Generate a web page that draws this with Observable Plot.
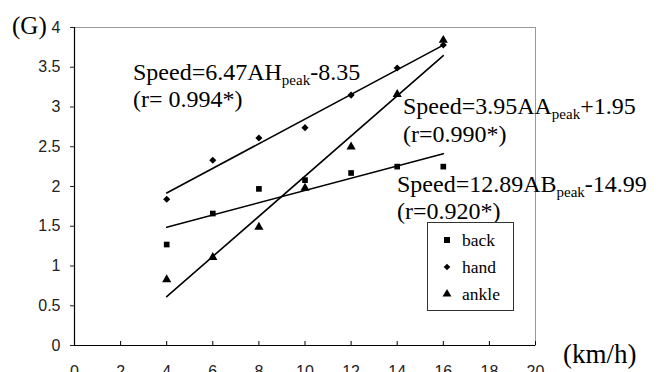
<!DOCTYPE html>
<html>
<head>
<meta charset="utf-8">
<script src="https://cdn.jsdelivr.net/npm/d3@7"></script>
<script src="https://cdn.jsdelivr.net/npm/@observablehq/plot@0.6"></script>
<style>
  html, body { margin: 0; padding: 0; background: #fff; }
  #chart { position: relative; width: 661px; height: 372px; overflow: hidden; }
</style>
</head>
<body>
<div id="chart"></div>
<script>
// ---- data ----
const speeds = [4, 6, 8, 10, 12, 14, 16];
const back  = [1.27, 1.66, 1.97, 2.08, 2.17, 2.25, 2.25];
const hand  = [1.84, 2.33, 2.61, 2.74, 3.15, 3.49, 3.78];
const ankle = [0.83, 1.11, 1.49, 1.98, 2.50, 3.16, 3.84];
const seriesNames = ["back", "hand", "ankle"];
const seriesSymbols = ["square", "diamond2", "triangle"];
const xTicks = [0, 2, 4, 6, 8, 10, 12, 14, 16, 18, 20];
const yTicks = [0, 0.5, 1, 1.5, 2, 2.5, 3, 3.5, 4];
const yTickLabels = ["0", "0.5", "1", "1.5", "2", "2.5", "3", "3.5", "4"];
const xUnit = "(km/h)";
const yUnit = "(G)";
const equations = [
  {pre: "Speed=6.47AH", sub: "peak", post: "-8.35", r: "(r= 0.994*)"},
  {pre: "Speed=3.95AA", sub: "peak", post: "+1.95", r: "(r=0.990*)"},
  {pre: "Speed=12.89AB", sub: "peak", post: "-14.99", r: "(r=0.920*)"}
];

const rows = [];
[back, hand, ankle].forEach((vals, s) => {
  vals.forEach((v, i) => rows.push({series: seriesNames[s], speed: speeds[i], g: v}));
});

const sans = "'Liberation Sans', Arial, sans-serif";
const serif = "'Liberation Serif', 'DejaVu Serif', serif";

const svg = Plot.plot({
  width: 661,
  height: 372,
  marginLeft: 74,
  marginRight: 126,
  marginTop: 27,
  marginBottom: 27,
  style: {fontFamily: sans, fontSize: "16px", color: "#222", background: "#fff", overflow: "hidden"},
  x: {domain: [0, 20]},
  y: {domain: [0, 4]},
  symbol: {domain: seriesNames, range: seriesSymbols},
  marks: [
    Plot.frame({stroke: "#999"}),
    Plot.ruleY([0], {stroke: "#000", strokeWidth: 1.2}),
    Plot.ruleX([0], {stroke: "#000", strokeWidth: 1.2}),
    Plot.ruleX(xTicks, {x: d => d, insetTop: 314, stroke: "#000"}),
    Plot.axisY(yTicks, {tickSize: 4, tickPadding: 10, tickFormat: (d, i) => yTickLabels[i], fontSize: 16, label: null}),
    Plot.axisX(xTicks, {tickSize: 0, tickPadding: 20, fontSize: 16, label: null}),
    Plot.linearRegressionY(rows, {x: "speed", y: "g", z: "series", stroke: "#000", strokeWidth: 1.6, ci: 0}),
    Plot.dot(rows.filter(d => d.series === "back"), {x: "speed", y: "g", symbol: "series", fill: "#000", r: 3.2}),
    Plot.dot(rows.filter(d => d.series === "hand"), {x: "speed", y: "g", symbol: "series", fill: "#000", r: 3.2}),
    Plot.dot(rows.filter(d => d.series === "ankle"), {x: "speed", y: "g", symbol: "series", fill: "#000", r: 3.4})
  ]
});
document.getElementById("chart").appendChild(svg);

const g = d3.select(svg).append("g")
  .attr("fill", "#000").attr("text-anchor", "start");

function stext(parent, x, y, size, str) {
  return parent.append("text").attr("x", x).attr("y", y)
    .style("font-family", serif).style("font-size", size + "px").text(str);
}

// axis unit labels
stext(g, 12, 34, 25, yUnit);
stext(g, 563, 363, 27, xUnit);

// equation annotations
const eqPos = [
  {x: 133, y1: 80, y2: 107},
  {x: 403, y1: 114, y2: 142},
  {x: 397, y1: 192, y2: 219}
];
equations.forEach((e, i) => {
  const p = eqPos[i];
  const t = stext(g, p.x, p.y1, 24, null);
  t.append("tspan").text(e.pre);
  t.append("tspan").style("font-size", "15px").attr("dy", 5).text(e.sub);
  t.append("tspan").attr("dy", -5).text(e.post);
  stext(g, p.x, p.y2, 24, e.r);
});

// legend box
const lg = g.append("g");
lg.append("rect").attr("x", 427.5).attr("y", 222.5).attr("width", 86).attr("height", 88)
  .attr("fill", "#fff").attr("stroke", "#333");
const sym = d3.scaleOrdinal(seriesNames, [d3.symbolSquare, d3.symbolDiamond2, d3.symbolTriangle]);
const symSize = {back: 36, hand: 28, ankle: 34};
seriesNames.forEach((name, i) => {
  const cy = 240 + i * 27;
  lg.append("path").attr("transform", `translate(447,${cy})`)
    .attr("d", d3.symbol(sym(name), symSize[name])()).attr("fill", "#000");
  stext(lg, 462, cy + 6, 17.5, name);
});
</script>
</body>
</html>
